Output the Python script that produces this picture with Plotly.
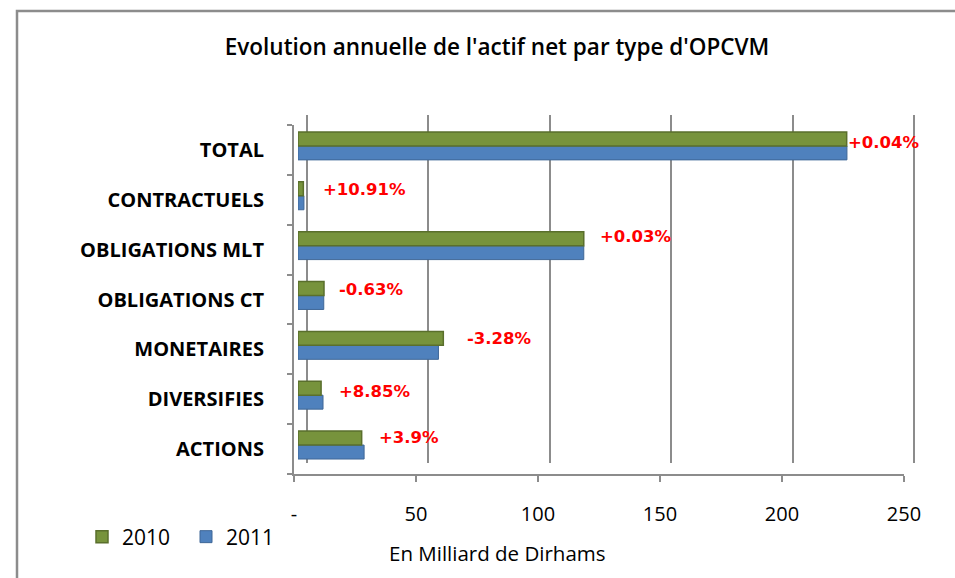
import plotly.graph_objects as go

# ---------------- data ----------------
CATEGORIES = ["ACTIONS", "DIVERSIFIES", "MONETAIRES", "OBLIGATIONS CT",
              "OBLIGATIONS MLT", "CONTRACTUELS", "TOTAL"]
AN_2010 = [26.2, 9.5, 59.8, 10.7, 117.6, 2.2, 225.8]
AN_2011 = [27.2, 10.3, 57.8, 10.6, 117.6, 2.45, 225.9]
VARIATIONS = ["+3.9%", "+8.85%", "-3.28%", "-0.63%", "+0.03%", "+10.91%", "+0.04%"]
TICK_VALUES = [0, 50, 100, 150, 200, 250]
TICK_LABELS = ["-", "50", "100", "150", "200", "250"]
SERIES_NAMES = ["2010", "2011"]

# ---------------- style ----------------
W, H = 955, 578
GREEN = "#77933c"
GREEN_DARK = "#5a6f2c"
BLUE = "#4f81bd"
BLUE_DARK = "#3f6797"
GRID = "#8c8c8c"
LABEL_DX = [13, 14, 22, 13, 14, 17, -1]   # label offsets (px) per category
LABEL_DY = [8, 4, 7, 6, 9, 6, 3]


def fx(px):
    return px / W


def fy(py):
    return 1 - py / H


fig = go.Figure()

# back-wall gridlines subplot (drawn first, below bars)
fig.add_trace(go.Scatter(x=[None], y=[None], xaxis="x", yaxis="y",
                         showlegend=False, hoverinfo="skip"))

# bars
fig.add_trace(go.Bar(y=CATEGORIES, x=AN_2011, orientation="h", name=SERIES_NAMES[1],
                     marker=dict(color=BLUE, line=dict(color=BLUE_DARK, width=1)),
                     xaxis="x2", yaxis="y2"))
fig.add_trace(go.Bar(y=CATEGORIES, x=AN_2010, orientation="h", name=SERIES_NAMES[0],
                     marker=dict(color=GREEN, line=dict(color=GREEN_DARK, width=1.5)),
                     xaxis="x2", yaxis="y2"))

# front axes subplot
fig.add_trace(go.Scatter(x=[None], y=[None], xaxis="x3", yaxis="y3",
                         showlegend=False, hoverinfo="skip"))

annotations = []
for i, cat in enumerate(CATEGORIES):
    annotations.append(dict(
        x=max(AN_2010[i], AN_2011[i]), y=cat, xref="x2", yref="y2",
        text=VARIATIONS[i], showarrow=False, xanchor="left", yanchor="middle",
        xshift=LABEL_DX[i], yshift=LABEL_DY[i],
        font=dict(family="DejaVu Sans", size=16.5, color="#ff0000", weight="bold")))

annotations.append(dict(
    x=fx(497), y=fy(553), xref="paper", yref="paper", showarrow=False,
    text="En Milliard de Dirhams", xanchor="center", yanchor="middle",
    font=dict(family="Open Sans", size=20.5, color="#000000")))

px_per_unit = (905.5 - 298) / 250.0

fig.update_layout(
    template="none",
    width=W, height=H, autosize=False,
    margin=dict(l=0, r=0, t=0, b=0, pad=0, autoexpand=False),
    paper_bgcolor="white", plot_bgcolor="rgba(0,0,0,0)",
    barmode="group", bargap=0.44, bargroupgap=0,
    title=dict(text="Evolution annuelle de l'actif net par type d'OPCVM",
               x=fx(497), y=fy(47), xanchor="center", yanchor="middle",
               font=dict(family="Open Sans", size=22.5, color="#000000", weight=600)),
    showlegend=True,
    legend=dict(orientation="h", traceorder="reversed", x=fx(82), y=fy(537),
                xanchor="left", yanchor="middle", entrywidth=59, itemwidth=30,
                font=dict(family="Open Sans", size=21, color="#000000"),
                bgcolor="rgba(0,0,0,0)", borderwidth=0),
    annotations=annotations,
    xaxis=dict(domain=[fx(307 - px_per_unit), fx(914 + px_per_unit)], range=[-1, 251],
               anchor="y", tickmode="array", tickvals=TICK_VALUES, automargin=False,
               showgrid=True, gridcolor=GRID, gridwidth=2,
               showticklabels=False, ticks="", zeroline=False, showline=False),
    yaxis=dict(domain=[fy(463), fy(115)], range=[0, 1], anchor="x", automargin=False,
               showgrid=False, showticklabels=False, ticks="", zeroline=False, showline=False),
    xaxis2=dict(domain=[fx(298), fx(905.5)], range=[0, 250], anchor="y2", automargin=False,
                showgrid=False, showticklabels=False, ticks="", zeroline=False, showline=False),
    yaxis2=dict(domain=[fy(470), fy(121)], anchor="x2", type="category", automargin=False,
                categoryorder="array", categoryarray=CATEGORIES,
                range=[-0.5, len(CATEGORIES) - 0.5],
                showgrid=False, showticklabels=False, ticks="", zeroline=False, showline=False),
    xaxis3=dict(domain=[fx(294), fx(904)], range=[0, 250], anchor="y3", automargin=False,
                showline=True, linecolor=GRID, linewidth=2,
                ticks="outside", ticklen=6, tickwidth=2, tickcolor=GRID,
                tickmode="array", tickvals=TICK_VALUES, ticktext=TICK_LABELS,
                ticklabelstandoff=15,
                tickfont=dict(family="Open Sans", size=20, color="#000000"),
                showgrid=False, zeroline=False),
    yaxis3=dict(domain=[fy(474), fy(125)], range=[-0.5, len(CATEGORIES) - 0.5], anchor="x3",
                automargin=False,
                showline=True, linecolor=GRID, linewidth=2,
                tickmode="array", tickvals=list(range(len(CATEGORIES))), ticktext=CATEGORIES,
                ticks="", ticklabelstandoff=24,
                minor=dict(tickmode="array",
                           tickvals=[i - 0.5 for i in range(len(CATEGORIES) + 1)],
                           ticks="outside", ticklen=5, tickwidth=2, tickcolor=GRID,
                           showgrid=False),
                tickfont=dict(family="Open Sans", size=20, color="#000000", weight="bold"),
                showgrid=False, zeroline=False),
    shapes=[dict(type="rect", xref="paper", yref="paper",
                 x0=fx(17), x1=1.05, y0=-0.05, y1=fy(11),
                 line=dict(color=GRID, width=2.5), fillcolor="rgba(0,0,0,0)", layer="below")],
)

fig.write_html("out.html", config={"displayModeBar": False},
               post_script="document.body.style.margin='0';document.body.style.overflow='hidden';")
